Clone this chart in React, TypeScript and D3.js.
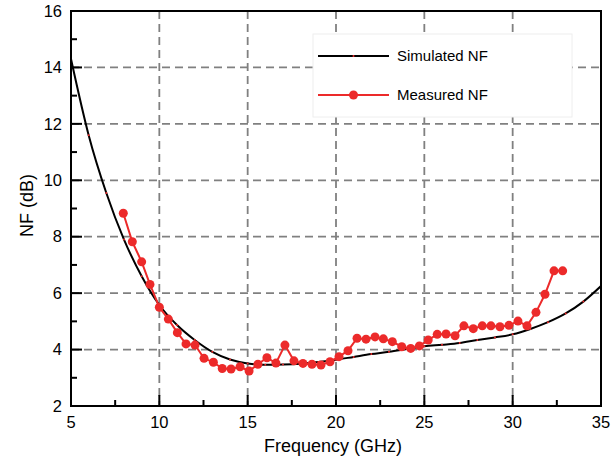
import React from "react";
import * as d3 from "d3";

const simFreq = [5,6,7,8,9,10,11,12,13,14,15,16,17,18,19,20,21,22,23,24,25,26,27,28,29,30,31,32,33,34,35];
const simNF = [14.3,11.6,9.55,7.9,6.6,5.58,4.87,4.34,3.92,3.65,3.51,3.46,3.47,3.5,3.56,3.64,3.74,3.84,3.92,4.02,4.12,4.17,4.23,4.34,4.43,4.54,4.73,4.97,5.28,5.7,6.25];

const measFreq = [7.96,8.47,9.0,9.47,10.0,10.51,11.02,11.51,12.02,12.53,13.06,13.56,14.06,14.57,15.08,15.58,16.09,16.6,17.11,17.62,18.13,18.64,19.15,19.66,20.17,20.68,21.19,21.7,22.21,22.68,23.19,23.72,24.23,24.72,25.22,25.73,26.23,26.74,27.24,27.77,28.28,28.77,29.28,29.79,30.3,30.81,31.32,31.83,32.34,32.83];
const measNF = [8.83,7.82,7.11,6.31,5.5,5.08,4.6,4.2,4.16,3.69,3.55,3.33,3.31,3.39,3.24,3.48,3.71,3.52,4.16,3.6,3.51,3.48,3.45,3.57,3.75,3.96,4.4,4.37,4.45,4.38,4.28,4.1,4.04,4.13,4.34,4.54,4.55,4.49,4.84,4.74,4.84,4.84,4.81,4.86,5.01,4.84,5.32,5.96,6.79,6.79];

const xTicks = [5,10,15,20,25,30,35];
const xMinor = [7.5,12.5,17.5,22.5,27.5,32.5];
const yTicks = [2,4,6,8,10,12,14,16];
const yMinor = [3,5,7,9,11,13,15];

const legendLabels = ["Simulated NF", "Measured NF"];

const RED = "#ec2a2a";
const GRID = "#808080";
const FONT = "Liberation Sans, Arial, sans-serif";

export default function App() {
  const W = 615, H = 461;
  const L = 71, R = 601, T = 11, B = 406;
  const x = d3.scaleLinear().domain([5, 35]).range([L, R]);
  const y = d3.scaleLinear().domain([2, 16]).range([B, T]);

  const simLine = d3.line<number>()
    .x((_, i) => x(simFreq[i]))
    .y((d) => y(d))
    .curve(d3.curveMonotoneX);
  const measLine = d3.line<number>()
    .x((_, i) => x(measFreq[i]))
    .y((d) => y(d));

  const lx0 = 318, lx1 = 389, ly1 = 56, ly2 = 95;

  return (
    <svg width={W} height={H} style={{ position: "absolute", left: 0, top: 0, background: "#fff" }} fontFamily={FONT}>
      <defs>
        <clipPath id="plot">
          <rect x={L} y={T} width={R - L} height={B - T} />
        </clipPath>
      </defs>
      {/* grid */}
      <g stroke={GRID} strokeWidth={1.8} strokeDasharray="8,5">
        {xTicks.filter((t) => t > 5 && t < 35).map((t) => (
          <line key={"gx" + t} x1={x(t)} x2={x(t)} y1={T} y2={B} />
        ))}
        {yTicks.filter((t) => t > 2 && t < 16).map((t) => (
          <line key={"gy" + t} x1={L} x2={R} y1={y(t)} y2={y(t)} />
        ))}
      </g>
      {/* legend */}
      <rect x={313} y={34} width={259} height={83} fill="#fff" stroke="#eeeeee" strokeWidth={1} />
      <line x1={lx0} x2={lx1} y1={ly1} y2={ly1} stroke="#000" strokeWidth={2} />
      <circle cx={(lx0 + lx1) / 2} cy={ly1} r={1} fill={RED} />
      <text x={397} y={ly1} dy="0.35em" fontSize={15} fill="#000">{legendLabels[0]}</text>
      <line x1={lx0} x2={lx1} y1={ly2} y2={ly2} stroke={RED} strokeWidth={2} />
      <circle cx={(lx0 + lx1) / 2} cy={ly2} r={4.5} fill={RED} />
      <text x={397} y={ly2} dy="0.35em" fontSize={15} fill="#000">{legendLabels[1]}</text>

      {/* data */}
      <g clipPath="url(#plot)">
        <path d={simLine(simNF) || ""} fill="none" stroke="#000" strokeWidth={2} />
        {simNF.map((v, i) => (
          <circle key={"s" + i} cx={x(simFreq[i])} cy={y(v)} r={1} fill={RED} />
        ))}
      </g>
      <path d={measLine(measNF) || ""} fill="none" stroke={RED} strokeWidth={2} />
      {measNF.map((v, i) => (
        <circle key={"m" + i} cx={x(measFreq[i])} cy={y(v)} r={4.5} fill={RED} />
      ))}

      {/* frame */}
      <rect x={L} y={T} width={R - L} height={B - T} fill="none" stroke="#000" strokeWidth={2} />
      {/* ticks */}
      <g stroke="#000" strokeWidth={2}>
        {xTicks.map((t) => (
          <line key={"xt" + t} x1={x(t)} x2={x(t)} y1={B} y2={B - 11} />
        ))}
        {xMinor.map((t) => (
          <line key={"xm" + t} x1={x(t)} x2={x(t)} y1={B} y2={B - 6} />
        ))}
        {yTicks.map((t) => (
          <line key={"yt" + t} x1={L} x2={L + 11} y1={y(t)} y2={y(t)} />
        ))}
        {yMinor.map((t) => (
          <line key={"ym" + t} x1={L} x2={L + 6} y1={y(t)} y2={y(t)} />
        ))}
      </g>
      {/* tick labels */}
      <g fontSize={16.5} fill="#000">
        {xTicks.map((t) => (
          <text key={"xl" + t} x={x(t)} y={428} textAnchor="middle">{t}</text>
        ))}
        {yTicks.map((t) => (
          <text key={"yl" + t} x={62} y={y(t)} dy="0.35em" textAnchor="end">{t}</text>
        ))}
      </g>
      <text x={(L + R) / 2 - 3} y={452} textAnchor="middle" fontSize={18} fill="#000">Frequency (GHz)</text>
      <text transform={`translate(33, 205.5) rotate(-90)`} textAnchor="middle" fontSize={18} fill="#000">NF (dB)</text>
    </svg>
  );
}
